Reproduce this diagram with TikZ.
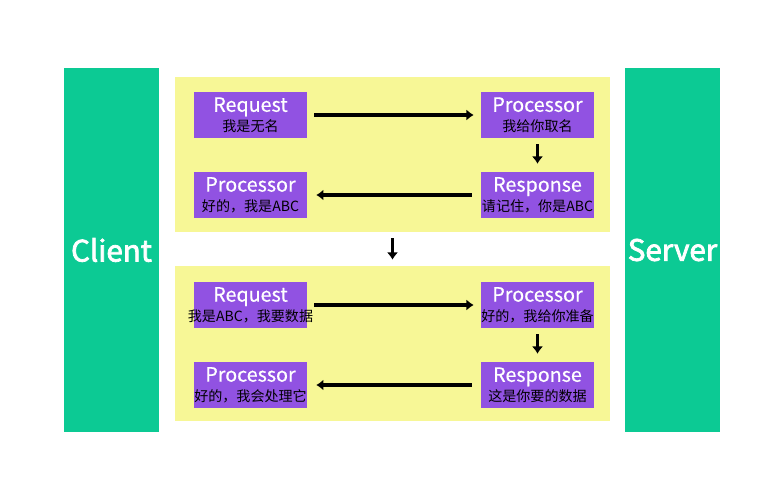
\documentclass[tikz,border=0pt]{standalone}
\usepackage{fontspec}
\setmainfont{Noto Sans CJK SC}
\newfontfamily\sidefont[FakeBold=2.5]{Noto Sans CJK SC}
\newfontfamily\titlefont[FakeBold=0.5]{Noto Sans CJK SC}
\usetikzlibrary{arrows.meta}
\definecolor{sidegreen}{RGB}{12,202,148}
\definecolor{panelyellow}{RGB}{247,247,150}
\definecolor{msgpurple}{RGB}{145,82,226}
\newcommand{\msgtitle}[1]{{\color{white}\titlefont\fontsize{14}{14}\selectfont #1}}
\newcommand{\msgnote}[1]{\makebox[0pt]{#1}}

\begin{document}
\begin{tikzpicture}[x=0.025cm,y=-0.025cm,
  side/.style={fill=sidegreen,text=white,minimum width=2.375cm,minimum height=9.1cm,inner sep=0pt,font=\sidefont\fontsize{21}{24}\selectfont},
  panel/.style={fill=panelyellow,minimum width=10.875cm,minimum height=3.875cm,inner sep=0pt},
  msg/.style={fill=msgpurple,minimum width=2.825cm,minimum height=1.15cm,inner sep=0pt,align=center,font=\fontsize{10}{13}\selectfont},
  flow/.style={-{Latex[length=0.18cm,width=0.28cm]},line width=2.4pt}]
\useasboundingbox (0,0) rectangle (784,500);
\node[side] (client) at (111.5,250) {Client};
\node[side] (server) at (672.5,250) {Server};
\node[panel] (top) at (392.5,154.5) {};
\node[panel] (bottom) at (392.5,343.5) {};
\node[msg] (req1) at (250.5,115) {\msgtitle{Request}\\[1pt]\msgnote{我是无名}};
\node[msg] (proc1) at (537.5,115) {\msgtitle{Processor}\\[1pt]\msgnote{我给你取名}};
\node[msg] (resp1) at (537.5,195) {\msgtitle{Response}\\[1pt]\msgnote{请记住，你是ABC}};
\node[msg] (back1) at (250.5,195) {\msgtitle{Processor}\\[1pt]\msgnote{好的，我是ABC}};
\node[msg] (req2) at (250.5,305) {\msgtitle{Request}\\[1pt]\msgnote{我是ABC，我要数据}};
\node[msg] (proc2) at (537.5,305) {\msgtitle{Processor}\\[1pt]\msgnote{好的，我给你准备}};
\node[msg] (resp2) at (537.5,385) {\msgtitle{Response}\\[1pt]\msgnote{这是你要的数据}};
\node[msg] (back2) at (250.5,385) {\msgtitle{Processor}\\[1pt]\msgnote{好的，我会处理它}};
\draw[flow,shorten <=5pt,shorten >=5pt] (req1) -- (proc1);
\draw[flow,shorten <=4.3pt,shorten >=5.7pt] (proc1) -- (resp1);
\draw[flow,shorten <=6.4pt,shorten >=6.4pt] (resp1) -- (back1);
\draw[flow,shorten <=4.3pt,shorten >=4.3pt] (top) -- (bottom);
\draw[flow,shorten <=5pt,shorten >=5pt] (req2) -- (proc2);
\draw[flow,shorten <=4.3pt,shorten >=5.7pt] (proc2) -- (resp2);
\draw[flow,shorten <=6.4pt,shorten >=6.4pt] (resp2) -- (back2);
\end{tikzpicture}
\end{document}
